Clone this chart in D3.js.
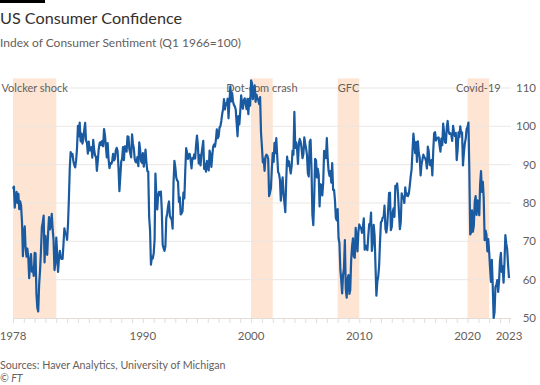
<!DOCTYPE html>
<html>
<head>
<meta charset="utf-8">
<script src="https://cdn.jsdelivr.net/npm/d3@7"></script>
<style>
  html, body { margin: 0; padding: 0; background: #ffffff; }
  svg { display: block; }
  text { font-family: Lato, "Open Sans", sans-serif; }
</style>
</head>
<body>
<svg id="chart" width="540" height="385"></svg>
<script>
// ---- Data (monthly, Jan 1978 – Nov 2023) ----
const startYear = 1978;
const sentiment = [
  // 1978
  83.7, 84.3, 78.8, 81.6, 82.9, 80.0, 82.4, 78.4, 80.4, 79.3, 75.0, 66.1,
  // 1979
  72.1, 73.9, 68.4, 66.0, 68.1, 65.8, 60.4, 64.5, 66.7, 62.1, 63.3, 61.0,
  // 1980
  67.0, 66.9, 56.5, 52.7, 51.7, 58.7, 62.3, 67.3, 73.7, 75.0, 76.7, 64.5,
  // 1981
  71.4, 66.9, 66.5, 72.4, 76.3, 73.1, 74.1, 77.2, 73.1, 70.3, 62.5, 64.3,
  // 1982
  71.0, 66.5, 62.0, 65.5, 67.5, 65.7, 65.4, 65.4, 69.3, 73.4, 72.1, 71.9,
  // 1983
  70.4, 74.6, 80.8, 89.1, 93.3, 92.2, 92.8, 90.9, 89.9, 89.3, 91.1, 94.2,
  // 1984
  100.1, 97.4, 101.0, 96.1, 98.1, 95.5, 96.6, 99.1, 100.9, 96.3, 95.7, 92.9,
  // 1985
  96.0, 93.7, 93.7, 94.6, 91.8, 96.5, 94.0, 92.4, 92.1, 88.4, 90.9, 93.9,
  // 1986
  95.6, 95.9, 95.1, 96.2, 94.8, 99.3, 97.7, 94.9, 91.9, 95.6, 91.4, 89.1,
  // 1987
  90.4, 90.2, 90.8, 92.8, 91.1, 91.5, 93.7, 94.4, 93.6, 89.3, 83.1, 86.8,
  // 1988
  90.8, 91.6, 94.6, 91.2, 94.8, 94.7, 93.4, 97.4, 97.3, 94.1, 93.0, 91.9,
  // 1989
  97.9, 95.4, 94.3, 91.5, 90.7, 90.6, 92.0, 89.6, 95.8, 93.9, 90.9, 90.5,
  // 1990
  93.0, 89.5, 91.3, 93.9, 90.6, 88.3, 88.2, 76.4, 72.8, 63.9, 66.0, 65.5,
  // 1991
  66.8, 70.4, 87.7, 81.8, 78.3, 82.1, 82.9, 82.0, 83.0, 78.3, 69.1, 68.2,
  // 1992
  67.5, 68.8, 76.0, 77.2, 79.2, 80.4, 76.6, 76.1, 75.6, 73.3, 85.3, 91.0,
  // 1993
  89.3, 86.6, 85.9, 85.6, 80.3, 81.5, 77.0, 77.3, 77.9, 82.7, 81.2, 88.2,
  // 1994
  94.3, 93.2, 91.5, 92.6, 92.8, 91.2, 89.0, 91.7, 91.5, 92.7, 91.6, 95.1,
  // 1995
  97.6, 95.1, 90.3, 92.5, 89.8, 92.7, 94.4, 96.2, 88.9, 90.2, 88.2, 91.0,
  // 1996
  89.3, 88.5, 93.7, 92.7, 89.4, 92.4, 94.7, 95.3, 94.7, 96.5, 99.2, 96.9,
  // 1997
  97.4, 99.7, 100.0, 101.4, 103.2, 104.5, 107.1, 104.4, 106.0, 105.6, 107.2, 102.1,
  // 1998
  106.6, 110.4, 106.5, 108.7, 106.5, 105.6, 105.2, 104.4, 100.9, 97.4, 102.7, 100.5,
  // 1999
  103.9, 108.1, 105.7, 104.6, 106.8, 107.3, 106.0, 104.5, 107.2, 103.2, 107.2, 105.4,
  // 2000
  112.0, 111.3, 107.1, 109.2, 110.7, 106.4, 108.3, 107.3, 106.8, 105.8, 107.6, 98.4,
  // 2001
  94.7, 90.6, 91.5, 88.4, 92.0, 92.6, 92.4, 91.5, 81.8, 82.7, 83.9, 88.8,
  // 2002
  93.0, 90.7, 95.7, 93.0, 96.9, 92.4, 88.1, 87.6, 86.1, 80.6, 84.2, 86.7,
  // 2003
  82.4, 79.9, 77.6, 86.0, 92.1, 89.7, 90.9, 89.3, 87.7, 89.6, 93.7, 92.6,
  // 2004
  103.8, 94.4, 95.8, 94.2, 90.2, 95.6, 96.7, 95.9, 94.2, 91.7, 92.8, 97.1,
  // 2005
  95.5, 94.1, 92.6, 87.7, 86.9, 96.0, 96.5, 89.1, 76.9, 74.2, 81.6, 91.5,
  // 2006
  91.2, 86.7, 88.9, 87.4, 79.1, 84.9, 84.7, 82.0, 85.4, 93.6, 92.1, 91.7,
  // 2007
  96.9, 91.3, 88.4, 87.1, 88.3, 85.3, 90.4, 83.4, 83.4, 80.9, 76.1, 75.5,
  // 2008
  78.4, 70.8, 69.5, 62.6, 59.8, 56.4, 61.2, 63.0, 70.3, 57.6, 55.3, 60.1,
  // 2009
  61.2, 56.3, 57.3, 65.1, 68.7, 70.8, 66.0, 65.7, 73.5, 70.6, 67.4, 72.5,
  // 2010
  74.4, 73.6, 73.6, 72.2, 73.6, 76.0, 67.8, 68.9, 68.2, 67.7, 71.6, 74.5,
  // 2011
  74.2, 77.5, 67.5, 69.8, 74.3, 71.5, 63.7, 55.8, 59.5, 60.8, 63.7, 69.9,
  // 2012
  75.0, 75.3, 76.2, 76.4, 79.3, 73.2, 72.3, 74.3, 78.3, 82.6, 82.7, 72.9,
  // 2013
  73.8, 77.6, 78.6, 76.4, 84.5, 84.1, 85.1, 82.1, 77.5, 73.2, 75.1, 82.5,
  // 2014
  81.2, 81.6, 80.0, 84.1, 81.9, 82.5, 81.8, 82.5, 84.6, 86.9, 88.8, 93.6,
  // 2015
  98.1, 95.4, 93.0, 95.9, 90.7, 96.1, 93.1, 91.9, 87.2, 90.0, 91.3, 92.6,
  // 2016
  92.0, 91.7, 91.0, 89.0, 94.7, 93.5, 90.0, 89.8, 91.2, 87.2, 93.8, 98.2,
  // 2017
  98.5, 96.3, 96.9, 97.0, 97.1, 95.0, 93.4, 96.8, 95.1, 100.7, 98.5, 95.9,
  // 2018
  95.7, 99.7, 101.4, 98.8, 98.0, 98.2, 97.9, 96.2, 100.1, 98.6, 97.5, 98.3,
  // 2019
  91.2, 93.8, 98.4, 97.2, 100.0, 98.2, 98.4, 89.8, 93.2, 95.5, 96.8, 99.3,
  // 2020
  99.8, 101.0, 89.1, 71.8, 72.3, 78.1, 72.5, 74.1, 80.4, 81.8, 76.9, 80.7,
  // 2021
  79.0, 76.8, 84.9, 88.3, 82.9, 85.5, 81.2, 70.3, 72.8, 71.7, 67.4, 70.6,
  // 2022
  67.2, 62.8, 59.4, 65.2, 58.4, 50.0, 51.5, 58.2, 58.6, 59.9, 56.8, 59.7,
  // 2023
  64.9, 67.0, 62.0, 63.5, 59.2, 64.4, 71.6, 69.4, 67.9, 63.8, 60.4
];

const bandLabels = ["Volcker shock", "Dot-com crash", "GFC", "Covid-19"];
const bandStart  = [1978, 2000, 2008, 2020];
const bandEnd    = [1982, 2002, 2010, 2022];

const yTicks = [50, 60, 70, 80, 90, 100, 110];
const xTickLabels = ["1978", "1990", "2000", "2010", "2020", "2023"];

const title = "US Consumer Confidence";
const subtitle = "Index of Consumer Sentiment (Q1 1966=100)";
const source = "Sources: Haver Analytics, University of Michigan";
const credit = "© FT";

// ---- Build ----
const data = sentiment.map((v, i) => ({ date: new Date(startYear, i, 1), value: v }));
const lastDate = data[data.length - 1].date;

const svg = d3.select("#chart");
const plotL = 13, plotR = 509, plotT = 88, plotB = 318, gridR = 511;

const x = d3.scaleTime().domain([new Date(startYear, 0, 1), lastDate]).range([plotL, plotR]);
const y = d3.scaleLinear().domain([50, 110]).range([plotB, plotT]);

const textDark = "#33302e", textMid = "#66605c";

// Top black bar
svg.append("rect").attr("x", 0).attr("y", 0).attr("width", 45).attr("height", 3).attr("fill", "#000");

// Title + subtitle
svg.append("text").attr("x", 0).attr("y", 24).attr("fill", textDark)
  .attr("font-size", 16.2).text(title);
svg.append("text").attr("x", 0).attr("y", 47).attr("fill", textMid)
  .attr("font-size", 12).text(subtitle);

// Bands
const bands = bandLabels.map((l, i) => ({ label: l, s: new Date(bandStart[i], 0, 1), e: new Date(bandEnd[i], 0, 1) }));
svg.append("g").selectAll("rect").data(bands).join("rect")
  .attr("x", d => x(d.s)).attr("width", d => x(d.e) - x(d.s))
  .attr("y", y(112.5)).attr("height", plotB - y(112.5))
  .attr("fill", "#fde4d3");

// Gridlines
svg.append("g").selectAll("line").data(yTicks.filter(t => t !== 50)).join("line")
  .attr("x1", plotL).attr("x2", gridR)
  .attr("y1", d => y(d)).attr("y2", d => y(d))
  .attr("stroke", "#ebe7e4").attr("stroke-width", 1);

// Y labels
svg.append("g").selectAll("text").data(yTicks).join("text")
  .attr("x", 536).attr("y", d => y(d)).attr("dy", "0.35em")
  .attr("text-anchor", "end").attr("fill", textMid).attr("font-size", 11.5)
  .text(d => d);

// X axis
const xAxis = d3.axisBottom(x)
  .tickValues(d3.timeYear.range(new Date(startYear, 0, 1), new Date(2024, 0, 1)).concat([lastDate]))
  .tickSize(5).tickFormat("");
const gx = svg.append("g").attr("transform", `translate(0,${plotB})`).call(xAxis);
gx.select(".domain").attr("stroke", "#e3ddd9").attr("d", `M${plotL},0.5H${gridR}`);
gx.selectAll(".tick line").attr("stroke", "#e3ddd9");

const labelPos = xTickLabels.map(l => l === "2023" ? lastDate : new Date(+l, 0, 1));
svg.append("g").selectAll("text").data(xTickLabels).join("text")
  .attr("x", (d, i) => x(labelPos[i])).attr("y", 339.5)
  .attr("text-anchor", "middle").attr("fill", textMid).attr("font-size", 11.5)
  .text(d => d);

// Band labels
svg.append("g").selectAll("text").data(bands).join("text")
  .attr("x", d => (x(d.s) + x(d.e)) / 2).attr("y", y(110)).attr("dy", "0.35em")
  .attr("text-anchor", "middle").attr("fill", textMid).attr("font-size", 11)
  .text(d => d.label);

// Line
const line = d3.line().x(d => x(d.date)).y(d => y(d.value));
svg.append("path").datum(data).attr("d", line)
  .attr("fill", "none").attr("stroke", "#1a5aa0").attr("stroke-width", 2.2)
  .attr("stroke-linejoin", "round");

// Source
svg.append("text").attr("x", 0).attr("y", 368.5).attr("fill", textMid)
  .attr("font-size", 10.7).text(source);
svg.append("text").attr("x", 0).attr("y", 382).attr("fill", textMid)
  .attr("font-size", 10.5).attr("font-style", "italic").text(credit);
</script>
</body>
</html>
